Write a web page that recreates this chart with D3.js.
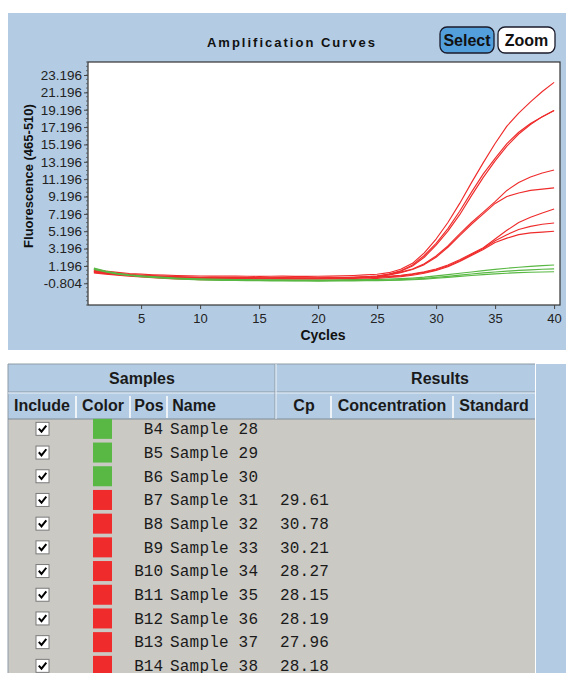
<!DOCTYPE html>
<html>
<head>
<meta charset="utf-8">
<script src="https://cdn.jsdelivr.net/npm/d3@7"></script>
<style>
  body { margin: 0; background: #fff; }
  svg text { font-family: "Liberation Sans", Arial, sans-serif; }
  svg text.mono { font-family: "Liberation Mono", "Courier New", monospace; }
</style>
</head>
<body>
<div id="chart"></div>
<script>
// ---- data ----
var cycles = [1, 2, 3, 4, 5, 6, 7, 8, 9, 10, 11, 12, 13, 14, 15, 16, 17, 18, 19, 20,
              21, 22, 23, 24, 25, 26, 27, 28, 29, 30, 31, 32, 33, 34, 35, 36, 37, 38, 39, 40];
var xTicks = [5, 10, 15, 20, 25, 30, 35, 40];
var yTicks = [-0.804, 1.196, 3.196, 5.196, 7.196, 9.196, 11.196, 13.196, 15.196, 17.196, 19.196, 21.196, 23.196];

var samplePos   = ["B4", "B5", "B6", "B7", "B8", "B9", "B10", "B11", "B12", "B13", "B14"];
var sampleNames = ["Sample 28", "Sample 29", "Sample 30", "Sample 31", "Sample 32", "Sample 33",
                   "Sample 34", "Sample 35", "Sample 36", "Sample 37", "Sample 38"];
var sampleCp    = [null, null, null, "29.61", "30.78", "30.21", "28.27", "28.15", "28.19", "27.96", "28.18"];
var sampleColor = ["green", "green", "green", "red", "red", "red", "red", "red", "red", "red", "red"];

var fluorB4 = [0.95, 0.6, 0.35, 0.18, 0.06, -0.04, -0.12, -0.2, -0.26, -0.3, -0.33, -0.35, -0.37, -0.38, -0.4, -0.4, -0.41, -0.42, -0.42, -0.43,
               -0.42, -0.41, -0.4, -0.38, -0.36, -0.32, -0.27, -0.2, -0.1, 0.05, 0.2, 0.36, 0.5, 0.65, 0.8, 0.93, 1.05, 1.15, 1.23, 1.3];
var fluorB5 = [0.88, 0.55, 0.3, 0.13, 0.01, -0.09, -0.17, -0.25, -0.31, -0.36, -0.39, -0.41, -0.43, -0.45, -0.46, -0.47, -0.48, -0.49, -0.49, -0.5,
               -0.49, -0.48, -0.47, -0.46, -0.44, -0.42, -0.38, -0.32, -0.24, -0.12, 0.0, 0.14, 0.27, 0.4, 0.5, 0.6, 0.68, 0.75, 0.81, 0.85];
var fluorB6 = [0.8, 0.5, 0.26, 0.09, -0.03, -0.13, -0.22, -0.3, -0.36, -0.41, -0.44, -0.46, -0.48, -0.5, -0.51, -0.52, -0.53, -0.54, -0.54, -0.55,
               -0.54, -0.53, -0.52, -0.51, -0.49, -0.48, -0.45, -0.4, -0.32, -0.22, -0.12, 0.0, 0.1, 0.2, 0.28, 0.36, 0.42, 0.47, 0.5, 0.53];
var fluorB7 = [0.5, 0.36, 0.23, 0.13, 0.05, -0.02, -0.08, -0.12, -0.16, -0.19, -0.21, -0.22, -0.23, -0.24, -0.25, -0.25, -0.24, -0.26, -0.27, -0.26,
               -0.24, -0.22, -0.19, -0.15, -0.08, 0.0, 0.12, 0.3, 0.52, 0.85, 1.3, 1.9, 2.6, 3.3, 4.3, 5.3, 6.2, 6.8, 7.3, 7.76];
var fluorB8 = [0.38, 0.25, 0.12, 0.01, -0.08, -0.16, -0.23, -0.29, -0.34, -0.38, -0.4, -0.42, -0.43, -0.44, -0.45, -0.45, -0.44, -0.46, -0.47, -0.46,
               -0.44, -0.42, -0.38, -0.32, -0.24, -0.14, -0.03, 0.13, 0.36, 0.68, 1.1, 1.7, 2.4, 3.1, 3.9, 4.4, 4.8, 5.0, 5.1, 5.19];
var fluorB9 = [0.45, 0.32, 0.2, 0.1, 0.02, -0.05, -0.11, -0.15, -0.19, -0.22, -0.24, -0.25, -0.26, -0.28, -0.29, -0.29, -0.28, -0.3, -0.31, -0.3,
               -0.28, -0.26, -0.23, -0.19, -0.12, -0.04, 0.06, 0.22, 0.45, 0.75, 1.2, 1.8, 2.5, 3.2, 4.1, 4.8, 5.4, 5.75, 6.0, 6.15];
var fluorB10 = [0.58, 0.42, 0.28, 0.17, 0.09, 0.02, -0.04, -0.09, -0.13, -0.16, -0.17, -0.18, -0.19, -0.2, -0.21, -0.21, -0.2, -0.22, -0.23, -0.22,
                -0.2, -0.18, -0.15, -0.1, -0.02, 0.15, 0.42, 0.78, 1.35, 2.2, 3.35, 4.7, 6.0, 7.2, 8.4, 9.2, 9.6, 9.9, 10.05, 10.2];
var fluorB11 = [0.62, 0.44, 0.3, 0.18, 0.1, 0.03, -0.03, -0.07, -0.11, -0.14, -0.15, -0.16, -0.17, -0.18, -0.19, -0.2, -0.19, -0.2, -0.21, -0.2,
                -0.19, -0.17, -0.13, -0.07, 0.03, 0.25, 0.65, 1.3, 2.4, 3.8, 5.5, 7.5, 9.7, 11.8, 13.6, 15.3, 16.6, 17.6, 18.4, 19.1];
var fluorB12 = [0.68, 0.48, 0.33, 0.21, 0.12, 0.05, 0.0, -0.05, -0.08, -0.11, -0.12, -0.13, -0.14, -0.15, -0.16, -0.16, -0.15, -0.16, -0.17, -0.16,
                -0.15, -0.13, -0.1, -0.05, 0.03, 0.2, 0.48, 0.85, 1.45, 2.35, 3.5, 4.9, 6.2, 7.4, 8.6, 9.9, 10.8, 11.45, 11.9, 12.25];
var fluorB13 = [0.8, 0.6, 0.45, 0.33, 0.25, 0.18, 0.13, 0.09, 0.06, 0.04, 0.03, 0.02, 0.02, 0.01, 0.0, 0.01, 0.02, 0.0, 0.0, 0.01,
                0.03, 0.06, 0.1, 0.16, 0.24, 0.42, 0.82, 1.5, 2.7, 4.3, 6.2, 8.4, 10.8, 13.1, 15.3, 17.3, 18.8, 20.1, 21.3, 22.35];
var fluorB14 = [0.55, 0.4, 0.26, 0.15, 0.07, 0.0, -0.06, -0.1, -0.14, -0.17, -0.18, -0.2, -0.21, -0.22, -0.23, -0.23, -0.22, -0.24, -0.25, -0.24,
                -0.22, -0.2, -0.16, -0.1, 0.0, 0.2, 0.58, 1.2, 2.2, 3.6, 5.2, 7.1, 9.3, 11.4, 13.3, 15.0, 16.4, 17.5, 18.4, 19.1];

var fluor = [fluorB4, fluorB5, fluorB6, fluorB7, fluorB8, fluorB9, fluorB10, fluorB11, fluorB12, fluorB13, fluorB14];

// ---- styles ----
var panelBlue = "#b3cce4",
    bodyGray = "#cac9c4",
    colors = { red: "#ef2b2b", green: "#58b843" };

var W = 566, H = 673;
var svg = d3.select("#chart")
    .append("svg")
    .attr("width", W)
    .attr("height", H);

// ---------- chart panel ----------
svg.append("rect")
    .attr("x", 8).attr("y", 13)
    .attr("width", W - 8).attr("height", 337)
    .attr("fill", panelBlue);

var plot = { left: 88, top: 62, right: 560, bottom: 305 };

var x = d3.scaleLinear()
    .domain([0.5, 40.5])
    .range([plot.left, plot.right]);

var y = d3.scaleLinear()
    .domain([-3.304, 24.696])
    .range([plot.bottom, plot.top]);

svg.append("rect")
    .attr("x", plot.left).attr("y", plot.top)
    .attr("width", plot.right - plot.left).attr("height", plot.bottom - plot.top)
    .attr("fill", "#fff")
    .attr("stroke", "#333")
    .attr("stroke-width", 1.2);

// title
svg.append("text")
    .attr("x", 292).attr("y", 47)
    .attr("text-anchor", "middle")
    .attr("font-size", 13)
    .attr("font-weight", "bold")
    .attr("letter-spacing", 2)
    .attr("fill", "#111")
    .text("Amplification Curves");

// buttons
var buttons = [
    { label: "Select", x: 440, w: 54, fill: "#529fdc" },
    { label: "Zoom", x: 498, w: 57, fill: "#fff" }
];
var btn = svg.selectAll("g.btn")
    .data(buttons)
    .enter().append("g")
    .attr("class", "btn")
    .attr("transform", function(d) { return "translate(" + d.x + ",27)"; });
btn.append("rect")
    .attr("width", function(d) { return d.w; })
    .attr("height", 26)
    .attr("rx", 7)
    .attr("fill", function(d) { return d.fill; })
    .attr("stroke", "#1a1a2a")
    .attr("stroke-width", 1.3);
btn.append("text")
    .attr("x", function(d) { return d.w / 2; })
    .attr("y", 19)
    .attr("text-anchor", "middle")
    .attr("font-size", 16)
    .attr("font-weight", "bold")
    .attr("fill", "#111")
    .text(function(d) { return d.label; });

// x axis
var xAxis = svg.append("g")
    .attr("transform", "translate(0," + plot.bottom + ")")
    .call(d3.axisBottom(x).tickValues(xTicks).tickSize(4).tickPadding(5).tickSizeOuter(0));
xAxis.select(".domain").remove();
xAxis.selectAll("text").attr("font-size", 13).attr("fill", "#222");
xAxis.selectAll("line").attr("stroke", "#444");

// y axis, minor ticks first
var minor = d3.range(-3.304, 24.7, 0.5);
svg.append("g")
    .selectAll("line")
    .data(minor)
    .enter().append("line")
    .attr("x1", plot.left - 2).attr("x2", plot.left)
    .attr("y1", function(d) { return y(d); })
    .attr("y2", function(d) { return y(d); })
    .attr("stroke", "#555")
    .attr("stroke-width", 0.8);

var yAxis = svg.append("g")
    .attr("transform", "translate(" + plot.left + ",0)")
    .call(d3.axisLeft(y).tickValues(yTicks).tickSize(4).tickPadding(2).tickSizeOuter(0)
        .tickFormat(function(d) { return d.toFixed(3); }));
yAxis.select(".domain").remove();
yAxis.selectAll("text").attr("font-size", 13.5).attr("fill", "#222");
yAxis.selectAll("line").attr("stroke", "#444");

// axis titles
svg.append("text")
    .attr("x", 323).attr("y", 340)
    .attr("text-anchor", "middle")
    .attr("font-size", 14)
    .attr("font-weight", "bold")
    .attr("fill", "#111")
    .text("Cycles");

svg.append("text")
    .attr("transform", "translate(33,176) rotate(-90)")
    .attr("text-anchor", "middle")
    .attr("font-size", 13)
    .attr("font-weight", "bold")
    .attr("fill", "#111")
    .text("Fluorescence (465-510)");

// curves
svg.append("clipPath").attr("id", "plotclip")
    .append("rect")
    .attr("x", plot.left + 1).attr("y", plot.top + 1)
    .attr("width", plot.right - plot.left - 2).attr("height", plot.bottom - plot.top - 2);

var line = d3.line()
    .x(function(d, i) { return x(cycles[i]); })
    .y(function(d) { return y(d); });

var curves = fluor.map(function(v, i) { return { values: v, color: sampleColor[i] }; });
// red first, green on top
curves.sort(function(a, b) { return a.color === b.color ? 0 : (a.color === "red" ? -1 : 1); });

svg.append("g")
    .attr("clip-path", "url(#plotclip)")
    .selectAll("path")
    .data(curves)
    .enter().append("path")
    .attr("d", function(d) { return line(d.values); })
    .attr("fill", "none")
    .attr("stroke", function(d) { return colors[d.color]; })
    .attr("stroke-width", 1.15)
    .attr("stroke-linejoin", "round");

// ---------- samples / results table ----------
var tTop = 364, tLeft = 8, tRight = 535, h1 = 28, h2 = 27;
var bodyTop = tTop + h1 + h2;
var rowH = 23.7;

svg.append("rect")
    .attr("x", tRight + 1).attr("y", tTop)
    .attr("width", W - tRight - 1).attr("height", H - tTop)
    .attr("fill", panelBlue);

svg.append("rect")
    .attr("x", tLeft).attr("y", tTop)
    .attr("width", tRight - tLeft).attr("height", h1 + h2)
    .attr("fill", panelBlue);

svg.append("rect")
    .attr("x", tLeft).attr("y", bodyTop)
    .attr("width", tRight - tLeft).attr("height", H - bodyTop)
    .attr("fill", bodyGray);

// header grid lines
var grid = svg.append("g").attr("stroke-width", 1).attr("fill", "none");
grid.append("path")
    .attr("d", "M" + tLeft + "," + H + "V" + tTop + "H" + tRight)
    .attr("stroke", "#8d9aa6");
grid.append("line")
    .attr("x1", tLeft).attr("x2", tRight).attr("y1", tTop + h1).attr("y2", tTop + h1)
    .attr("stroke", "#8d9aa6");
grid.append("line")
    .attr("x1", tLeft).attr("x2", tRight).attr("y1", tTop + h1 + 1).attr("y2", tTop + h1 + 1)
    .attr("stroke", "#e8f0f8");
grid.append("line")
    .attr("x1", tLeft).attr("x2", tRight).attr("y1", bodyTop).attr("y2", bodyTop)
    .attr("stroke", "#7f8c98");

var colDividers = [76, 130, 167, 331, 453];
grid.selectAll("line.cd")
    .data(colDividers)
    .enter().append("line")
    .attr("class", "cd")
    .attr("x1", function(d) { return d; }).attr("x2", function(d) { return d; })
    .attr("y1", tTop + h1 + 4).attr("y2", bodyTop - 1)
    .attr("stroke", "#eef3f8")
    .attr("stroke-width", 2);
grid.append("line")
    .attr("x1", 275).attr("x2", 275).attr("y1", tTop).attr("y2", bodyTop)
    .attr("stroke", "#8d9aa6");
grid.append("line")
    .attr("x1", 276).attr("x2", 276).attr("y1", tTop).attr("y2", bodyTop)
    .attr("stroke", "#eef3f8");

// header labels
var headers = [
    { t: "Samples", x: 142, row: 1 },
    { t: "Results", x: 440, row: 1 },
    { t: "Include", x: 42, row: 2 },
    { t: "Color", x: 103, row: 2 },
    { t: "Pos", x: 149, row: 2 },
    { t: "Name", x: 194, row: 2 },
    { t: "Cp", x: 304, row: 2 },
    { t: "Concentration", x: 392, row: 2 },
    { t: "Standard", x: 494, row: 2 }
];
svg.selectAll("text.hdr")
    .data(headers)
    .enter().append("text")
    .attr("class", "hdr")
    .attr("x", function(d) { return d.x; })
    .attr("y", function(d) { return d.row === 1 ? tTop + 20 : tTop + h1 + 19; })
    .attr("text-anchor", "middle")
    .attr("font-size", 16)
    .attr("font-weight", "bold")
    .attr("fill", "#1a1a1a")
    .text(function(d) { return d.t; });

// rows
var rowScale = d3.scaleBand()
    .domain(samplePos)
    .range([bodyTop - 2, bodyTop - 2 + rowH * samplePos.length]);

var rows = svg.selectAll("g.row")
    .data(samplePos)
    .enter().append("g")
    .attr("class", "row")
    .attr("transform", function(d) { return "translate(0," + (rowScale(d) + rowScale.bandwidth() / 2) + ")"; });

rows.append("rect")
    .attr("x", 36).attr("y", -6.5)
    .attr("width", 13).attr("height", 13)
    .attr("fill", "#fff")
    .attr("stroke", "#7a7a7a");
rows.append("path")
    .attr("d", "M38.8,-0.3 L41.5,2.8 L46.3,-3.3")
    .attr("fill", "none")
    .attr("stroke", "#000")
    .attr("stroke-width", 2);

rows.append("rect")
    .attr("x", 93).attr("y", -10)
    .attr("width", 19).attr("height", 20)
    .attr("fill", function(d, i) { return colors[sampleColor[i]]; });

rows.append("text")
    .attr("class", "mono")
    .attr("x", 163).attr("dy", "0.33em")
    .attr("text-anchor", "end")
    .attr("font-size", 16)
    .attr("fill", "#1a1a1a")
    .text(function(d) { return d; });

rows.append("text")
    .attr("class", "mono")
    .attr("x", 170).attr("dy", "0.33em")
    .attr("font-size", 16)
    .attr("letter-spacing", 0.2)
    .attr("fill", "#1a1a1a")
    .text(function(d, i) { return sampleNames[i]; });

rows.append("text")
    .attr("class", "mono")
    .attr("x", 280).attr("dy", "0.33em")
    .attr("font-size", 16)
    .attr("letter-spacing", 0.2)
    .attr("fill", "#1a1a1a")
    .text(function(d, i) { return sampleCp[i] || ""; });
</script>
</body>
</html>
